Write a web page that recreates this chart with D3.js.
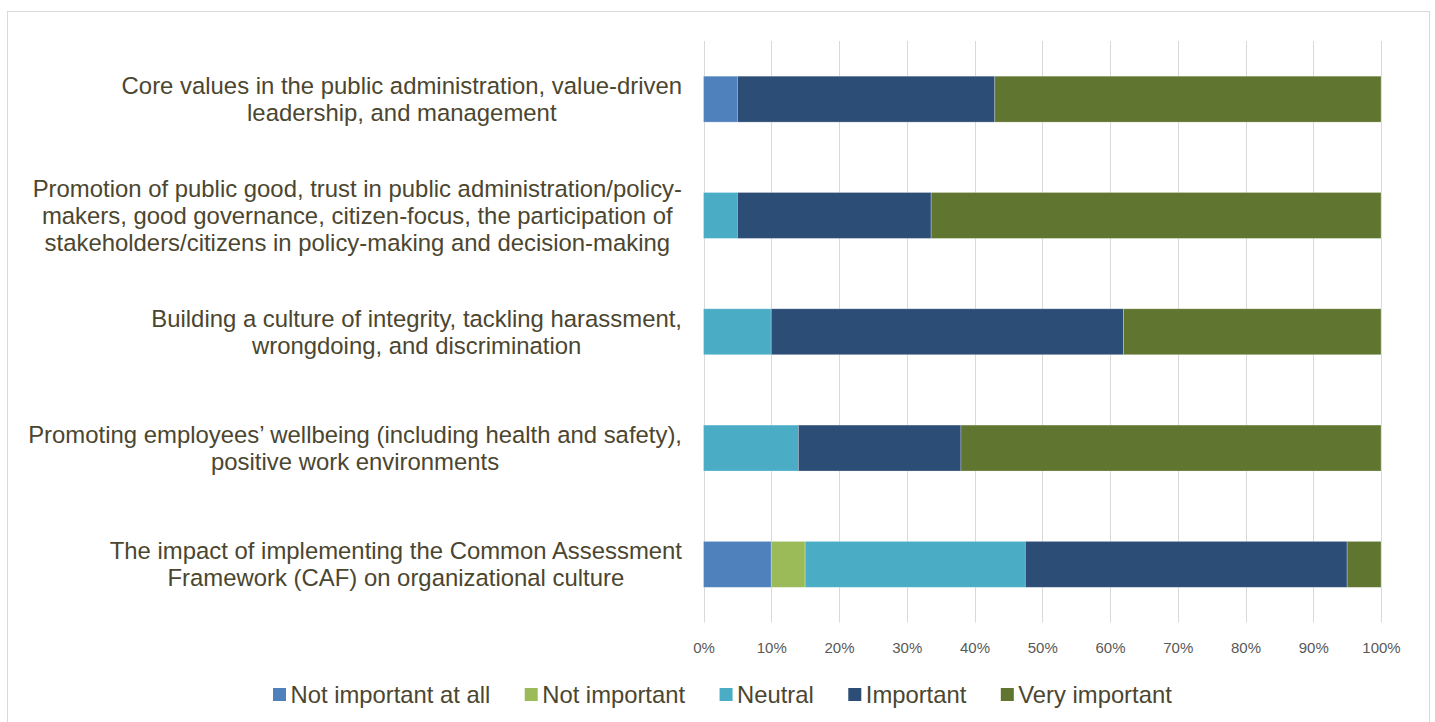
<!DOCTYPE html>
<html>
<head>
<meta charset="utf-8">
<script src="https://cdn.jsdelivr.net/npm/d3@7"></script>
<style>
  body { margin: 0; background: #fff; }
  text { font-family: "Liberation Sans", Arial, sans-serif; }
</style>
</head>
<body>
<div id="chart"></div>
<script>
const categories = [
  ["Core values in the public administration, value-driven", "leadership, and management"],
  ["Promotion of public good, trust in public administration/policy-", "makers, good governance, citizen-focus, the participation of", "stakeholders/citizens in policy-making and decision-making"],
  ["Building a culture of integrity, tackling harassment,", "wrongdoing, and discrimination"],
  ["Promoting employees\u2019 wellbeing (including health and safety),", "positive work environments"],
  ["The impact of implementing the Common Assessment", "Framework (CAF) on organizational culture"]
];

const seriesNames = ["Not important at all", "Not important", "Neutral", "Important", "Very important"];
const seriesColors = ["#4f81bd", "#9bbb59", "#4bacc6", "#2c4d75", "#60752f"];

// shares per category, in percent
const notImportantAtAll = [5, 0, 0, 0, 10];
const notImportant      = [0, 0, 0, 0, 5];
const neutral           = [0, 5, 10, 14, 32.5];
const important         = [38, 28.6, 52, 24, 47.5];
const veryImportant     = [57, 66.4, 38, 62, 5];

const xTicks = [0, 0.1, 0.2, 0.3, 0.4, 0.5, 0.6, 0.7, 0.8, 0.9, 1];

const W = 1435, H = 722;
const plot = { left: 703.5, right: 1381, top: 41, bottom: 622.5 };
const textColor = "#4b4630";

const rows = categories.map((c, i) => ({
  i: i,
  v: [notImportantAtAll[i], notImportant[i], neutral[i], important[i], veryImportant[i]]
}));

const svg = d3.select("#chart").append("svg")
  .attr("width", W)
  .attr("height", H);

// outer frame
svg.append("rect")
  .attr("x", 7.5).attr("y", 11.5)
  .attr("width", 1422).attr("height", 720)
  .attr("fill", "none")
  .attr("stroke", "#d9d9d9");

let x = d3.scaleLinear()
  .domain([0, 1])
  .range([plot.left, plot.right]);

let y = d3.scaleBand()
  .domain(d3.range(categories.length))
  .range([plot.top, plot.bottom])
  .paddingInner(0.605)
  .paddingOuter(0.3025);

// grid
svg.append("g")
  .selectAll("line")
  .data(xTicks)
  .enter()
  .append("line")
  .attr("x1", d => Math.round(x(d)) + 0.5)
  .attr("x2", d => Math.round(x(d)) + 0.5)
  .attr("y1", plot.top)
  .attr("y2", plot.bottom)
  .attr("stroke", "#d9d9d9")
  .attr("stroke-width", 1);

// x axis labels
let xAxisCall = d3.axisBottom(x)
  .tickValues(xTicks)
  .tickFormat(d3.format(".0%"))
  .tickSize(0)
  .tickPadding(0);

let xAxis = svg.append("g")
  .attr("transform", "translate(0," + plot.bottom + ")")
  .call(xAxisCall);
xAxis.select(".domain").remove();
xAxis.selectAll("text")
  .attr("dy", null)
  .attr("y", 30)
  .style("font-family", "'Liberation Sans', Arial, sans-serif")
  .style("font-size", "15px")
  .attr("fill", "#595959");

// stacked bars
const stack = d3.stack().keys(d3.range(seriesNames.length)).value((d, k) => d.v[k] / 100);
const layers = stack(rows);

svg.append("g")
  .selectAll("g")
  .data(layers)
  .enter()
  .append("g")
  .attr("fill", (d, k) => seriesColors[k])
  .selectAll("rect")
  .data(d => d.filter(s => s[1] - s[0] > 0))
  .enter()
  .append("rect")
  .attr("x", d => x(d[0]))
  .attr("width", d => x(d[1]) - x(d[0]))
  .attr("y", d => y(d.data.i))
  .attr("height", y.bandwidth())
  .attr("stroke", "#ffffff")
  .attr("stroke-opacity", 0.35)
  .attr("stroke-width", 0.75);

// category labels, centred block with right edge at 682
const lh = 26.8;
categories.forEach((lines, i) => {
  const cy = y(i) + y.bandwidth() / 2;
  const g = svg.append("g");
  const t = g.selectAll("text")
    .data(lines)
    .enter()
    .append("text")
    .attr("text-anchor", "middle")
    .attr("y", (d, j) => cy - (lines.length - 1) * lh / 2 + 8.5 + j * lh)
    .style("font-size", "23.9px")
    .attr("fill", textColor)
    .text(d => d);
  let maxW = 0;
  t.each(function () { maxW = Math.max(maxW, this.getComputedTextLength()); });
  t.attr("x", 682 - maxW / 2);
});

// legend
const legend = svg.append("g");
let lx = 273;
seriesNames.forEach((name, k) => {
  legend.append("rect")
    .attr("x", lx).attr("y", 688)
    .attr("width", 13).attr("height", 13)
    .attr("fill", seriesColors[k]);
  const t = legend.append("text")
    .attr("x", lx + 17.5)
    .attr("y", 703)
    .style("font-size", "23.8px")
    .attr("fill", textColor)
    .text(name);
  lx += 17.5 + t.node().getComputedTextLength() + 34.5;
});
</script>
</body>
</html>
